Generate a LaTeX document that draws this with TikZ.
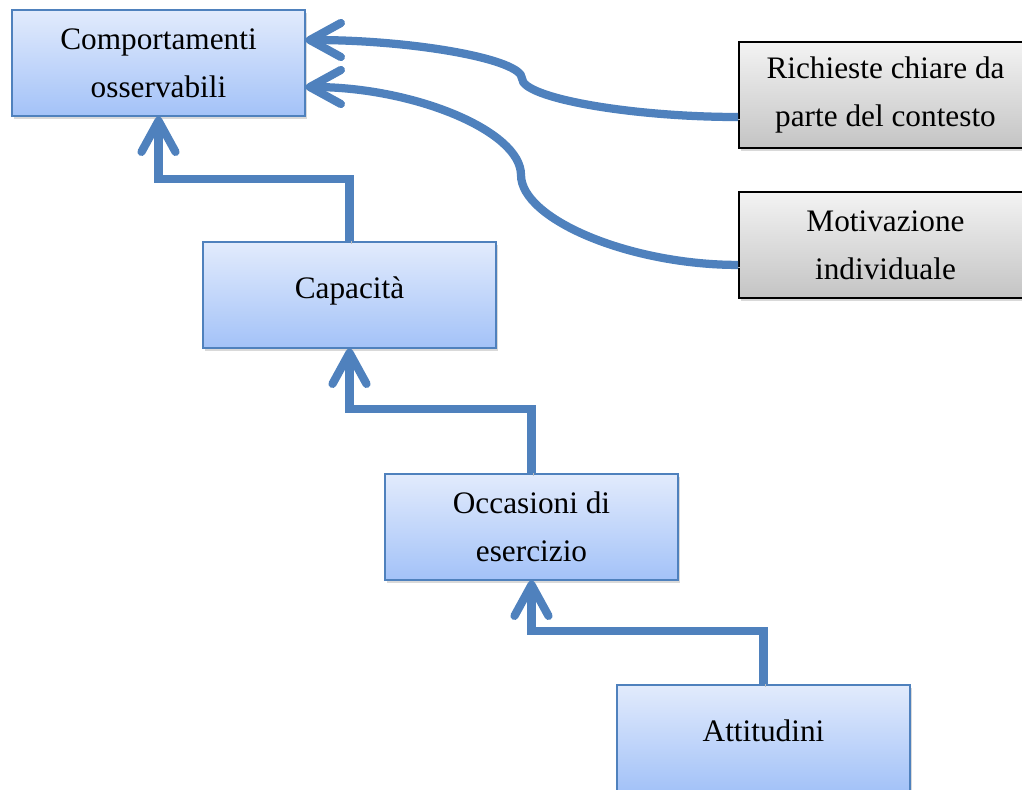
\documentclass[tikz,border=0pt]{standalone}
\usepackage{fontspec}
\setmainfont{Liberation Serif}
\usetikzlibrary{arrows.meta,positioning,shadows}
\definecolor{linkblue}{RGB}{79,129,189}
\definecolor{boxtop}{RGB}{226,235,252}
\definecolor{boxbottom}{RGB}{163,194,248}
\definecolor{greytop}{RGB}{243,243,243}
\definecolor{greybottom}{RGB}{196,196,196}

\begin{document}
\begin{tikzpicture}[blockbox/.style={rectangle, draw=linkblue, line width=0.85pt, top color=boxtop, bottom color=boxbottom, minimum width=5.86cm, minimum height=2.12cm, align=center, font=\fontsize{17.8pt}{27.3pt}\selectfont, drop shadow={shadow xshift=0.04cm, shadow yshift=-0.06cm, opacity=0.3}},
            oneline/.style={text depth=0.3cm},
            greybox/.style={blockbox, draw=black, line width=1.1pt, top color=greytop, bottom color=greybottom},
            linkarrow/.style={draw=linkblue, line width=0.165cm, -{Straight Barb[length=0.62cm, width=0.68cm, line cap=round, line join=round]}, preaction={draw=black!25, transform canvas={shift={(0.04cm,-0.05cm)}}}}]
            \useasboundingbox (0,0) rectangle (20.44,-15.78);
            % Nodes
            \node[blockbox] (comport) at (3.17,-1.26) {Comportamenti\\osservabili};
            \node[blockbox, oneline] (capac) at (6.99,-5.90) {Capacità};
            \node[blockbox] (occas) at (10.63,-10.54) {Occasioni di\\esercizio};
            \node[blockbox, oneline] (attit) at (15.27,-14.76) {Attitudini};
            \node[greybox] (richieste) at (17.71,-1.90) {Richieste chiare da\\parte del contesto};
            \node[greybox, below=0.84cm of richieste] (motiv) {Motivazione\\individuale};
            \coordinate (bend1) at (10.44,-1.57);
            \coordinate (bend2) at (10.42,-3.50);
            % Frecce
            \draw[linkarrow] (capac.north) -- ++(0,1.24) -| (comport.south);
            \draw[linkarrow] (occas.north) -- ++(0,1.28) -| (capac.south);
            \draw[linkarrow] (attit.north) -- ++(0,1.06) -| (occas.south);
            \draw[linkarrow] ([yshift=-0.44cm]richieste.west) to[out=180, in=-90, out distance=2.17cm, in distance=0.385cm] (bend1) to[out=90, in=0, out distance=0.385cm, in distance=2.17cm] ([yshift=0.46cm]comport.east);
            \draw[linkarrow] ([yshift=-0.40cm]motiv.west) to[out=180, in=-90, out distance=2.18cm, in distance=0.88cm] (bend2) to[out=90, in=0, out distance=0.88cm, in distance=2.16cm] ([yshift=-0.48cm]comport.east);
        \end{tikzpicture}
\end{document}
